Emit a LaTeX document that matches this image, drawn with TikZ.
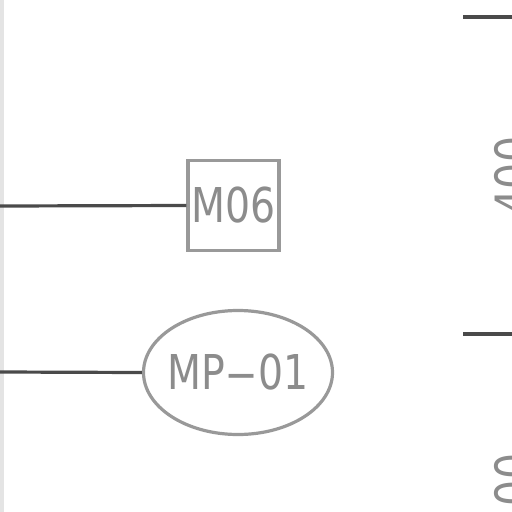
\documentclass[tikz,border=0pt]{standalone}
\usepackage{fontspec}
\usepackage{graphicx}
\newfontfamily\cadfont{DejaVu Sans}[FakeStretch=0.82]
\usetikzlibrary{shapes.geometric}
\definecolor{leadc}{HTML}{4A4A4A}
\definecolor{symc}{HTML}{999999}
\definecolor{txtc}{HTML}{8C8C8C}
\definecolor{edgec}{HTML}{E4E4E4}
\tikzset{
  lead/.style={draw=leadc, line width=3.2pt},
  tagbox/.style={draw=symc, line width=3.2pt, rectangle, minimum width=91pt, minimum height=89.5pt, inner sep=0pt, text=txtc, font=\cadfont\fontsize{48}{48}\selectfont},
  tagell/.style={draw=symc, line width=3.2pt, ellipse, minimum width=189pt, minimum height=124pt, inner xsep=-12pt, inner ysep=0pt, text=txtc, font=\cadfont\fontsize{48}{48}\selectfont},
  dimtxt/.style={rotate=90, anchor=base, text=txtc, font=\cadfont\fontsize{50}{50}\selectfont, inner sep=0pt},
  tick/.style={draw=leadc, line width=3.2pt}
}
\begin{document}
\begin{tikzpicture}[x=1pt, y=-1pt]
\clip (0,0) rectangle (512,512);
\fill[white] (0,0) rectangle (512,512);
\draw[edgec, line width=4pt] (2,0) -- (2,512);
\node[tagbox] (m06) at (233.5,205.5) {M06};
\node[tagell] (mp01) at (238,372.5) {MP\scalebox{2.4}[1]{-}01};
\coordinate (l1) at (0,206);
\coordinate (l2) at (0,372);
\draw[lead] (l1) -- (m06.west);
\draw[lead] (l2) -- (mp01.west);
\coordinate (t1a) at (463,17);
\coordinate (t1b) at (512,17);
\coordinate (t2a) at (463,334);
\coordinate (t2b) at (512,334);
\draw[tick] (t1a) -- (t1b);
\draw[tick] (t2a) -- (t2b);
\node[dimtxt] (d1) at (531,176) {400};
\node[dimtxt] (d2) at (531,493) {400};
\end{tikzpicture}
\end{document}
